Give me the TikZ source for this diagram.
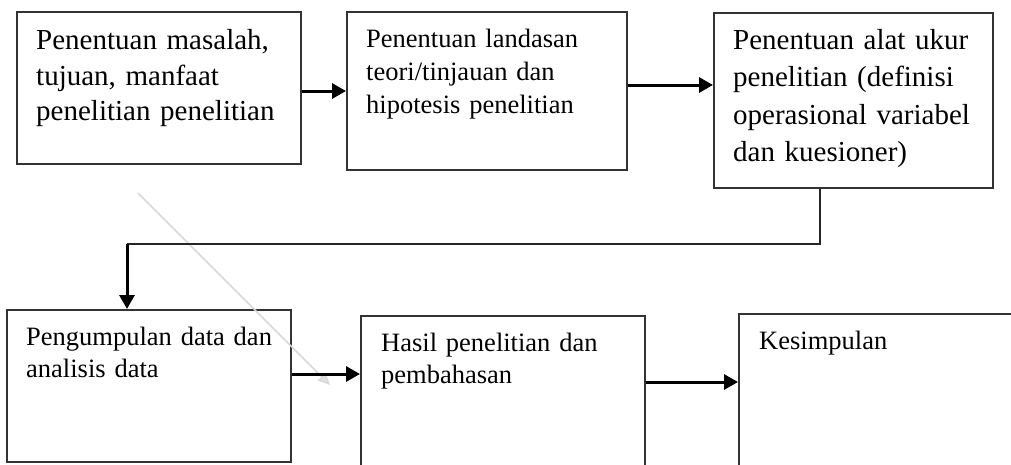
\documentclass[tikz,border=0pt]{standalone}
\usepackage{fontspec}
\setmainfont{Liberation Serif}
\usetikzlibrary{arrows.meta}
\begin{document}
\begin{tikzpicture}[x=1pt,y=-1pt,
  boxline/.style={draw=black!80,line width=1.8pt},
  arr/.style={line width=3pt,-{Triangle[length=14pt,width=15pt]}},
  thin/.style={line width=1.7pt,draw=black!85},
  bigtxt/.style={anchor=base west,inner sep=0pt,text width=270pt,align=left,font=\fontsize{29}{35.5}\selectfont},
  smltxt/.style={anchor=base west,inner sep=0pt,text width=260pt,align=left,font=\fontsize{26.5}{32.5}\selectfont}]
\useasboundingbox (0,0) rectangle (1011,464);
\clip (0,0) rectangle (1011,464);
% boxes
\node[boxline,inner sep=0pt,minimum width=284pt,minimum height=152pt,anchor=north west] (b1) at (16,11) {};
\node[boxline,inner sep=0pt,minimum width=280pt,minimum height=158pt,anchor=north west] (b2) at (346,11) {};
\node[boxline,inner sep=0pt,minimum width=279pt,minimum height=175pt,anchor=north west] (b3) at (713,12) {};
\node[boxline,inner sep=0pt,minimum width=284pt,minimum height=152pt,anchor=north west] (b4) at (6,309) {};
\node[boxline,inner sep=0pt,minimum width=284pt,minimum height=170pt,anchor=north west] (b5) at (360,315) {};
\node[boxline,inner sep=0pt,minimum width=300pt,minimum height=170pt,anchor=north west] (b6) at (738,313) {};
% texts
\node[bigtxt] (t1) at (36,49.5) {Penentuan masalah,\\tujuan, manfaat\\penelitian penelitian};
\node[smltxt,font=\fontsize{26.5}{33}\selectfont] (t2) at (366,47) {Penentuan landasan\\teori/tinjauan dan\\hipotesis penelitian};
\node[bigtxt,font=\fontsize{29}{37.5}\selectfont] (t3) at (733,49) {Penentuan alat ukur\\penelitian (definisi\\operasional variabel\\dan kuesioner)};
\node[smltxt] (t4) at (26,345) {Pengumpulan data dan\\analisis data};
\node[smltxt] (t5) at (381,351) {Hasil penelitian dan\\pembahasan};
\node[smltxt] (t6) at (759,349) {Kesimpulan};
% watermark line
\coordinate (w1) at (138,193);
\coordinate (w2) at (330,385);
\draw[line width=1.5pt,draw=black!15,-{Triangle[length=12pt,width=11pt,fill=black!12]}] (w1) -- (w2);
% connectors
\draw[arr] (b1.east |- 0,91) -- (b2.west |- 0,91);
\draw[arr] (b2.east |- 0,85) -- (b3.west |- 0,85);
\coordinate (c1) at (820,244);
\coordinate (c2) at (127,244);
\draw[thin] (b3.south -| c1) -- (c1) -- (c2);
\draw[arr] (c2) -- (b4.north -| c2);
\draw[arr] (b4.east |- 0,374) -- (b5.west |- 0,374);
\draw[arr] (b5.east |- 0,382) -- (b6.west |- 0,382);
\end{tikzpicture}
\end{document}
